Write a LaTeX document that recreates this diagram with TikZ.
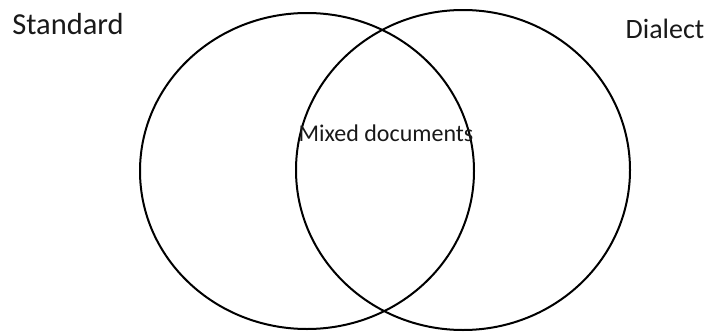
\documentclass[tikz,border=0pt]{standalone}
\usepackage{fontspec}
\setmainfont{Carlito}
\begin{document}
\begin{tikzpicture}[x=1pt, y=-1pt,
	ring/.style={line width=2pt, color=black},
	label/.style={inner sep=0pt, text=black!90}]
		%%%%% START %%%%%
		
		\useasboundingbox (0, 0) rectangle (715, 332);
		
		\draw[ring] (307, 171) ellipse (167 and 158);
		\draw[ring] (463, 170) ellipse (167 and 160);
		
		\node[label, font=\fontsize{30.5}{32}\selectfont] (standard) at (68, 24) {Standard};
		\node[label, font=\fontsize{28}{30}\selectfont] (dialect) at (665, 29) {Dialect};
		\node[label, font=\fontsize{24}{26}\selectfont] (mixed) at (386, 133) {Mixed documents};
		
		%%%%% END %%%%%
\end{tikzpicture}
\end{document}
